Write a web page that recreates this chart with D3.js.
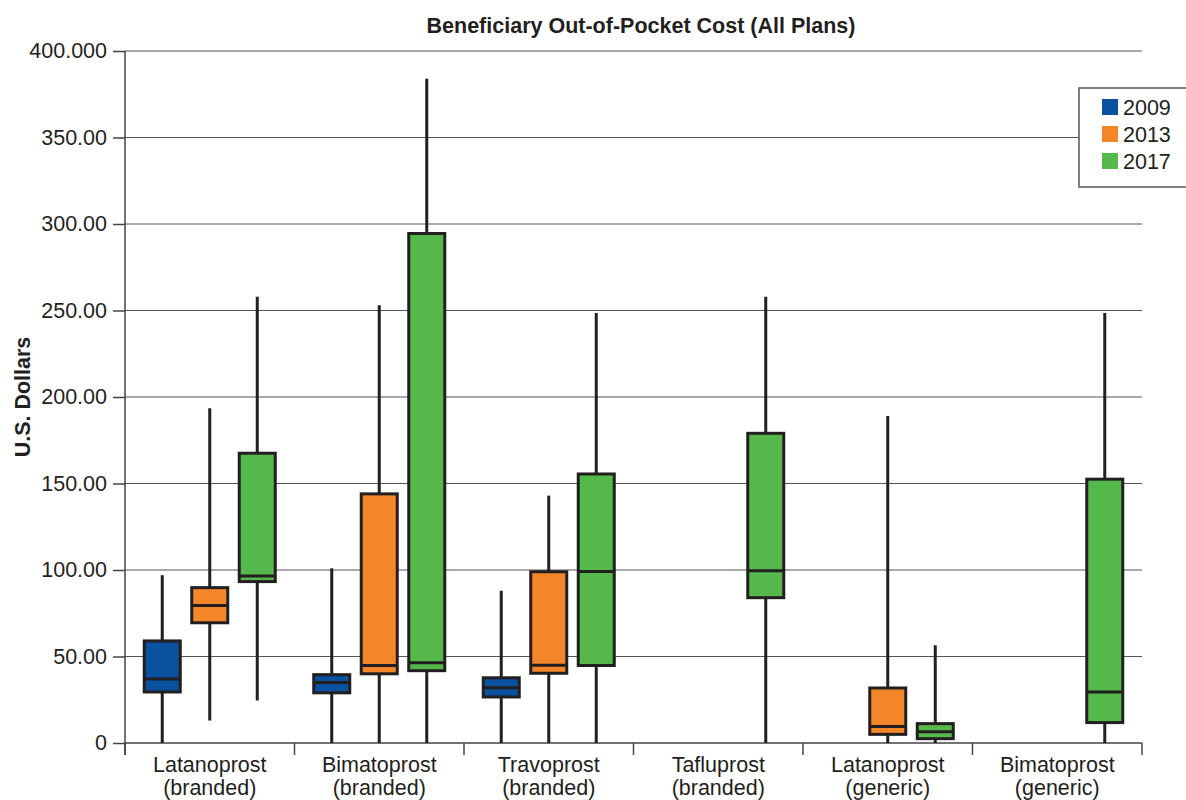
<!DOCTYPE html>
<html>
<head>
<meta charset="utf-8">
<script src="https://cdn.jsdelivr.net/npm/d3@7"></script>
<style>
  body { margin: 0; background: #fff; }
  svg { font-family: "Liberation Sans", Arial, Helvetica, sans-serif; }
</style>
</head>
<body>
<div id="chart"></div>
<script>
// categories (two-line labels)
const categories = [
  ["Latanoprost", "(branded)"],
  ["Bimatoprost", "(branded)"],
  ["Travoprost", "(branded)"],
  ["Tafluprost", "(branded)"],
  ["Latanoprost", "(generic)"],
  ["Bimatoprost", "(generic)"]
];
const years = ["2009", "2013", "2017"];
const colors = ["#0a519f", "#f4862a", "#55b84a"];

// [min, q1, median, q3, max] per category, null = no data
const stats2009 = [
  [0, 29.5, 37, 59, 97],
  [0, 29, 35, 39.5, 101],
  [0, 26.6, 32, 37.7, 88],
  null, null, null
];
const stats2013 = [
  [13, 69.5, 79.5, 89.8, 193.5],
  [0, 40, 44.8, 144, 253],
  [0, 40.3, 45, 99, 143],
  null,
  [0, 5, 9.5, 31.8, 189],
  null
];
const stats2017 = [
  [24.5, 93.3, 96.6, 167.5, 258],
  [0, 41.8, 46.4, 294.5, 384],
  [0, 44.8, 99.2, 155.5, 248.5],
  [0, 84, 99.5, 179, 258],
  [0, 2.5, 6.5, 11.2, 56.5],
  [0, 11.8, 29.5, 152.5, 248.5]
];
const yTicks = [0, 50, 100, 150, 200, 250, 300, 350, 400];
const yTickLabels = ["0", "50.00", "100.00", "150.00", "200.00", "250.00", "300.00", "350.00", "400.000"];

const W = 1186, H = 800;
const margin = {left: 125, right: 44, top: 51, bottom: 57};
const plotRight = W - margin.right;
const plotBottom = H - margin.bottom;
const fontSize = "21.5px";

const svg = d3.select("#chart").append("svg")
  .attr("width", W).attr("height", H);

const x0 = d3.scaleBand()
  .domain(d3.range(categories.length))
  .range([margin.left, plotRight]);

const x1 = d3.scaleBand()
  .domain(years)
  .range([0, x0.bandwidth()])
  .paddingInner(0.242)
  .paddingOuter(0.405);

const y = d3.scaleLinear().domain([0, 400]).range([plotBottom, margin.top]);

// gridlines
svg.append("g")
  .selectAll("line")
  .data(yTicks.slice(1))
  .enter().append("line")
  .attr("x1", margin.left).attr("x2", plotRight)
  .attr("y1", d => y(d)).attr("y2", d => y(d))
  .attr("stroke", "#555").attr("stroke-width", 1.2);

// y axis
const yAxis = svg.append("g")
  .attr("transform", `translate(${margin.left},0)`)
  .call(d3.axisLeft(y).tickValues(yTicks).tickSize(12).tickPadding(6)
    .tickFormat((d, i) => yTickLabels[i]));
yAxis.select(".domain").attr("stroke", "#444").attr("stroke-width", 1.5)
  .attr("d", `M0,${margin.top}V${plotBottom + 12}`);
yAxis.selectAll(".tick line").attr("stroke", "#444").attr("stroke-width", 1.5);
yAxis.selectAll(".tick text").attr("fill", "#231f20")
  .style("font-size", fontSize);

// x axis
const xAxis = svg.append("g")
  .attr("transform", `translate(0,${plotBottom})`);
xAxis.append("line")
  .attr("x1", margin.left).attr("x2", plotRight)
  .attr("stroke", "#444").attr("stroke-width", 1.5);
const boundaries = x0.domain().map(d => x0(d)).concat([plotRight]);
xAxis.selectAll(".xtick")
  .data(boundaries)
  .enter().append("line")
  .attr("class", "xtick")
  .attr("x1", d => d).attr("x2", d => d)
  .attr("y1", 0).attr("y2", 12)
  .attr("stroke", "#444").attr("stroke-width", 1.5);
const labels = xAxis.selectAll(".xlabel")
  .data(categories)
  .enter().append("text")
  .attr("class", "xlabel")
  .attr("text-anchor", "middle")
  .attr("fill", "#231f20")
  .style("font-size", fontSize)
  .attr("transform", (d, i) => `translate(${x0(i) + x0.bandwidth() / 2},0)`);
labels.append("tspan").attr("x", 0).attr("y", 29).text(d => d[0]);
labels.append("tspan").attr("x", 0).attr("y", 52).text(d => d[1]);

// boxes
const series = [stats2009, stats2013, stats2017];
const boxes = [];
series.forEach((s, si) => {
  s.forEach((v, ci) => {
    if (v) boxes.push({cat: ci, year: years[si], color: colors[si], v});
  });
});

const g = svg.append("g").selectAll("g")
  .data(boxes)
  .enter().append("g")
  .attr("transform", d => `translate(${x0(d.cat) + x1(d.year)},0)`);

const bw = x1.bandwidth();
g.append("line")
  .attr("x1", bw / 2).attr("x2", bw / 2)
  .attr("y1", d => y(d.v[0])).attr("y2", d => y(d.v[4]))
  .attr("stroke", "#231f20").attr("stroke-width", 3);
g.append("rect")
  .attr("x", 0).attr("width", bw)
  .attr("y", d => y(d.v[3]))
  .attr("height", d => y(d.v[1]) - y(d.v[3]))
  .attr("fill", d => d.color)
  .attr("stroke", "#231f20").attr("stroke-width", 3);
g.append("line")
  .attr("x1", 0).attr("x2", bw)
  .attr("y1", d => y(d.v[2])).attr("y2", d => y(d.v[2]))
  .attr("stroke", "#231f20").attr("stroke-width", 3);

// title
svg.append("text")
  .attr("x", 641).attr("y", 33)
  .attr("text-anchor", "middle")
  .attr("font-weight", "bold")
  .attr("fill", "#231f20")
  .style("font-size", "21.5px")
  .text("Beneficiary Out-of-Pocket Cost (All Plans)");

// y axis title
svg.append("text")
  .attr("transform", "translate(30,397) rotate(-90)")
  .attr("text-anchor", "middle")
  .attr("font-weight", "bold")
  .attr("fill", "#231f20")
  .style("font-size", "21.5px")
  .text("U.S. Dollars");

// legend
const legend = svg.append("g").attr("transform", "translate(1079,88)");
legend.append("rect")
  .attr("x", 0).attr("y", 0).attr("width", 120).attr("height", 99)
  .attr("fill", "#fff").attr("stroke", "#555").attr("stroke-width", 1.5);
const items = legend.selectAll(".item")
  .data(years)
  .enter().append("g")
  .attr("transform", (d, i) => `translate(23,${11 + i * 27})`);
items.append("rect")
  .attr("width", 16).attr("height", 16)
  .attr("fill", (d, i) => colors[i]);
items.append("text")
  .attr("x", 21).attr("y", 16)
  .attr("fill", "#231f20")
  .style("font-size", fontSize)
  .text(d => d);
</script>
</body>
</html>
